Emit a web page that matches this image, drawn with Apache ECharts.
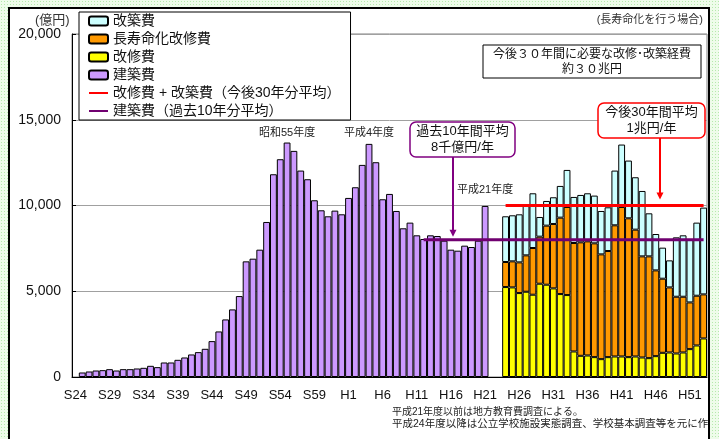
<!DOCTYPE html>
<html>
<head>
<meta charset="utf-8">
<script src="https://cdn.jsdelivr.net/npm/echarts@6/dist/echarts.min.js"></script>
<style>
  html, body {
    margin: 0;
    padding: 0;
    width: 719px;
    height: 439px;
    overflow: hidden;
    background-color: #eefcea;
    background-image: radial-gradient(#b6e9ad 0.9px, transparent 1px);
    background-size: 3px 3px;
  }
  #frame {
    position: absolute;
    left: 8px;
    top: 7px;
    width: 698px;
    height: 450px;
    background: #fff;
    border: 2px solid #000;
  }
  #chart {
    position: absolute;
    left: 0;
    top: 0;
    width: 719px;
    height: 439px;
    clip-path: inset(0 11px 0 0);
  }
</style>
</head>
<body>
<div id="frame"></div>
<div id="chart"></div>
<script>
const FONT = "'Liberation Sans', 'Noto Sans CJK JP', sans-serif"

// 年度 1949(S24) 〜 2041(H53)
const startYear = 1949
const endYear = 2041
const years = []
for (let y = startYear; y <= endYear; y++) years.push(String(y))

// 5年ごとの目盛ラベル
const tickLabels = ["S24", "S29", "S34", "S39", "S44", "S49", "S54", "S59", "H1", "H6",
  "H11", "H16", "H21", "H26", "H31", "H36", "H41", "H46", "H51"]

// 建築費 1949〜2009 (億円)
const kenchikuhi = [null,
  263, 321, 379, 399, 457, 379, 457, 457, 496, 535,
  652, 574, 846, 846, 1002, 1138, 1314, 1450, 1644, 2092,
  2656, 3357, 3941, 4719, 6743, 6899, 7424, 9039, 11822, 12698,
  13671, 13185, 12037, 11531, 10305, 9720, 9370, 9701, 9487, 10441,
  11064, 12367, 13593, 12523, 10363, 10675, 9682, 8670, 9001, 8261,
  8047, 8261, 8222, 7949, 7424, 7366, 7658, 7580, 7949, 9973]

// 今後 2012〜2041 (億円)
const futureStart = 2012
const kaishuhi = [5245, 5225, 4894, 4972, 4797, 5439, 5381, 5167, 4836, 4777,
  1489, 1236, 1255, 1158, 1041, 1158, 1197, 1197, 1158, 1197,
  1138, 1099, 1216, 1411, 1430, 1372, 1430, 1625, 1839, 2248]
const chojumyoka = [1460, 1518, 1790, 2121, 2724, 2744, 3444, 3756, 4456, 5137,
  6325, 6616, 6655, 6636, 6110, 6188, 7648, 8718, 8095, 7395,
  5896, 5935, 5001, 4320, 3795, 3308, 3250, 2724, 2900, 2569]
const kaichikuhi = [2666, 2685, 2802, 2880, 3191, 1148, 1440, 1557, 1849, 2160,
  2685, 2763, 2802, 2783, 2530, 2549, 3191, 3639, 3367, 3055,
  3814, 2510, 2121, 1810, 1576, 3464, 3581, 3639, 4262, 5060]

// 平均線
const pastAvg = 8000      // 過去10年分平均
const pastAvgFrom = 2000
const futureAvg = 10000   // 今後30年分平均

// 棒の上の注記
const barNotes = [
  { year: 1980, text: "昭和55年度", distance: 4 },
  { year: 1992, text: "平成4年度", distance: 5 },
  { year: 2009, text: "平成21年度", distance: 10 },
]

const padFuture = (arr) => years.map((y) => {
  const i = Number(y) - futureStart
  return i >= 0 && i < arr.length ? arr[i] : null
})
const purpleData = years.map((y, i) => {
  const v = i < kenchikuhi.length ? kenchikuhi[i] : null
  const note = barNotes.find((n) => n.year === Number(y))
  if (!note) return v
  return {
    value: v,
    label: {
      show: true,
      position: "top",
      distance: note.distance,
      formatter: note.text,
      fontSize: 11,
      color: "#222",
      fontFamily: FONT,
    },
  }
})
const lineFrom = (from, val) => years.map((y) => (Number(y) >= from ? val : null))

const barBorder = { borderColor: "#000", borderWidth: 1 }
const redName = "改修費 + 改築費（今後30年分平均）"
const purpleName = "建築費（過去10年分平均）"

const chart = echarts.init(document.getElementById("chart"))

const option = {
  animation: false,
  backgroundColor: "transparent",
  textStyle: { fontFamily: FONT },
  grid: {
    left: 72,
    right: 12,
    top: 34,
    bottom: 62,
    show: true,
    borderColor: "#808080",
    borderWidth: 1,
  },
  legend: {
    orient: "vertical",
    left: 79,
    top: 12,
    padding: [0, 10, 0, 9],
    itemGap: 0,
    itemWidth: 19,
    itemHeight: 9,
    backgroundColor: "#fff",
    borderColor: "#000",
    borderWidth: 1,
    borderRadius: 0,
    textStyle: { fontSize: 14, lineHeight: 18, color: "#111", fontFamily: FONT },
    data: ["改築費", "長寿命化改修費", "改修費", "建築費",
      { name: redName, itemStyle: { opacity: 0 } },
      { name: purpleName, itemStyle: { opacity: 0 } }],
  },
  xAxis: {
    type: "category",
    data: years,
    axisLine: { lineStyle: { color: "#000", width: 1 } },
    axisTick: { show: false },
    axisLabel: {
      interval: 4,
      margin: 12,
      fontSize: 13,
      color: "#111",
      formatter: (v, i) => tickLabels[i / 5] || "",
    },
    splitLine: { show: false },
  },
  yAxis: {
    type: "value",
    min: 0,
    max: 20000,
    interval: 5000,
    axisLine: { show: true, lineStyle: { color: "#000", width: 1 } },
    axisTick: { show: true, inside: true, length: 4, lineStyle: { color: "#000" } },
    axisLabel: {
      margin: 11,
      fontSize: 14,
      color: "#111",
      formatter: (v) => v.toLocaleString("en-US"),
    },
    splitLine: { lineStyle: { color: "#a0a0a0", width: 1 } },
  },
  series: [
    {
      name: "建築費",
      type: "bar",
      stack: "total",
      barCategoryGap: 0,
      itemStyle: { color: "#cc99ff", ...barBorder },
      data: purpleData,
    },
    {
      name: "改修費",
      type: "bar",
      stack: "total",
      itemStyle: { color: "#ffff00", ...barBorder },
      data: padFuture(kaishuhi),
    },
    {
      name: "長寿命化改修費",
      type: "bar",
      stack: "total",
      itemStyle: { color: "#ff9900", ...barBorder },
      data: padFuture(chojumyoka),
    },
    {
      name: "改築費",
      type: "bar",
      stack: "total",
      itemStyle: { color: "#ccffff", ...barBorder },
      data: padFuture(kaichikuhi),
    },
    {
      name: redName,
      type: "line",
      symbol: "none",
      z: 5,
      lineStyle: { color: "#ff0000", width: 3 },
      itemStyle: { color: "#ff0000" },
      data: lineFrom(futureStart, futureAvg),
    },
    {
      name: purpleName,
      type: "line",
      symbol: "none",
      z: 5,
      lineStyle: { color: "#700070", width: 3 },
      itemStyle: { color: "#700070" },
      data: lineFrom(pastAvgFrom, pastAvg),
    },
  ],
}

chart.setOption(option)

// 注記（吹き出し・矢印）
const yPx = (v) => chart.convertToPixel({ gridIndex: 0 }, [0, v])[1]
const arrow = (x, y1, y2, color) => [
  { type: "line", z: 100, shape: { x1: x, y1: y1, x2: x, y2: y2 - 6 },
    style: { stroke: color, lineWidth: 2 } },
  { type: "polygon", z: 100,
    shape: { points: [[x - 3.5, y2 - 7], [x + 3.5, y2 - 7], [x, y2]] },
    style: { fill: color } },
]
const txt = (x, y, text, size, align, extra) => ({
  type: "text", z: 101, x: x, y: y,
  style: Object.assign({
    text: text, fontSize: size, fontFamily: FONT, fill: "#111",
    align: align, verticalAlign: "middle",
  }, extra || {}),
})

chart.setOption({
  graphic: [
    txt(35, 20, "(億円)", 13, "left", { fill: "#333" }),
    txt(703, 20, "(長寿命化を行う場合)", 11, "right", { fill: "#333" }),
    { type: "rect", z: 100, shape: { x: 483, y: 45, width: 218, height: 33 },
      style: { fill: "#fff", stroke: "#000", lineWidth: 1 } },
    txt(592, 62, "今後３０年間に必要な改修･改築経費\n約３０兆円", 12, "center", { lineHeight: 15 }),
    { type: "rect", z: 100, shape: { x: 410, y: 122, width: 105, height: 35, r: 6 },
      style: { fill: "#fff", stroke: "#800080", lineWidth: 1.5 } },
    txt(462.5, 139.5, "過去10年間平均\n8千億円/年", 13, "center", { lineHeight: 16 }),
    ...arrow(453, 157, yPx(pastAvg) - 3, "#800080"),
    { type: "rect", z: 100, shape: { x: 598, y: 103, width: 107, height: 35, r: 6 },
      style: { fill: "#fff", stroke: "#ff0000", lineWidth: 1.5 } },
    txt(651.5, 120.5, "今後30年間平均\n1兆円/年", 13, "center", { lineHeight: 16 }),
    ...arrow(660, 138, yPx(futureAvg) - 6, "#ff0000"),
    txt(392, 412, "平成21年度以前は地方教育費調査による。", 10, "left", { fill: "#222" }),
    txt(392, 424, "平成24年度以降は公立学校施設実態調査、学校基本調査等を元に作成", 10.5, "left", { fill: "#222" }),
  ],
})

window.addEventListener("resize", () => chart.resize())
</script>
</body>
</html>
